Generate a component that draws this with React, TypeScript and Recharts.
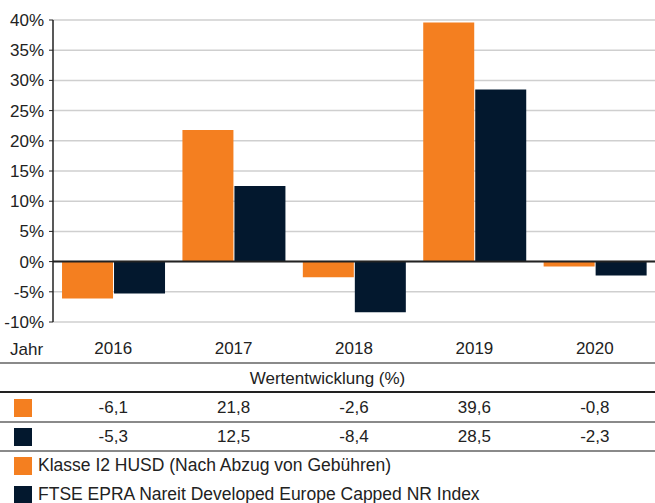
import React from "react";
import {
  BarChart,
  Bar,
  XAxis,
  YAxis,
  CartesianGrid,
  ReferenceLine,
} from "recharts";

const years = ["2016", "2017", "2018", "2019", "2020"];
const fundValues = [-6.1, 21.8, -2.6, 39.6, -0.8];
const indexValues = [-5.3, 12.5, -8.4, 28.5, -2.3];
const yTicks = [-10, -5, 0, 5, 10, 15, 20, 25, 30, 35, 40];
const fundName = "Klasse I2 HUSD (Nach Abzug von Gebühren)";
const indexName = "FTSE EPRA Nareit Developed Europe Capped NR Index";
const tableTitle = "Wertentwicklung (%)";

const ORANGE = "#F47F20";
const NAVY = "#03182E";
const TEXT = "#222";
const FONT = '"Liberation Sans", Arial, Helvetica, sans-serif';

const W = 655;
const H = 503;
const CHART_H = 363;
const AXIS_W = 53;

const data = years.map((y, i) => ({
  year: y,
  fund: fundValues[i],
  index: indexValues[i],
}));

const colW = (W - AXIS_W) / years.length;
const fmt = (v: number) => v.toFixed(1).replace(".", ",");

function Row({ top, color, values }: { top: number; color: string; values: number[] }) {
  return (
    <>
      <div style={{ position: "absolute", left: 14, top: top - 9, width: 18, height: 18, background: color }} />
      {values.map((v, i) => (
        <div
          key={i}
          style={{
            position: "absolute",
            left: AXIS_W + colW * i,
            width: colW,
            top: top - 10,
            textAlign: "center",
            lineHeight: "20px",
          }}
        >
          {fmt(v)}
        </div>
      ))}
    </>
  );
}

function HLine({ top, color }: { top: number; color: string }) {
  return <div style={{ position: "absolute", left: 0, top, width: W, height: 1.5, background: color }} />;
}

export default function App() {
  return (
    <div
      style={{
        position: "absolute",
        left: 0,
        top: 0,
        width: W,
        height: H,
        overflow: "hidden",
        background: "#fff",
        fontFamily: FONT,
        fontSize: 17,
        color: TEXT,
      }}
    >
      <BarChart
        width={W}
        height={CHART_H}
        data={data}
        margin={{ top: 20, right: 0, left: 0, bottom: 0 }}
        barCategoryGap="7.5%"
        barGap={1}
      >
        <CartesianGrid vertical={false} stroke="#cfcfcf" strokeWidth={1.5} />
        <XAxis
          dataKey="year"
          height={41}
          axisLine={false}
          tickLine={false}
          tickMargin={14}
          tick={{ fontSize: 17, fill: TEXT, fontFamily: FONT }}
        />
        <YAxis
          width={AXIS_W}
          domain={[-10, 40]}
          ticks={yTicks}
          interval={0}
          tickFormatter={(v) => `${v}%`}
          axisLine={{ stroke: TEXT, strokeWidth: 1.5 }}
          tickLine={{ stroke: TEXT }}
          tickSize={4}
          tickMargin={5}
          tick={{ fontSize: 17, fill: TEXT, fontFamily: FONT }}
        />
        <Bar dataKey="fund" fill={ORANGE} isAnimationActive={false} />
        <Bar dataKey="index" fill={NAVY} isAnimationActive={false} />
        <ReferenceLine y={0} stroke={TEXT} strokeWidth={2} />
      </BarChart>

      <div style={{ position: "absolute", left: 10, top: 340, lineHeight: "20px" }}>Jahr</div>

      <HLine top={362} color="#8a8a8a" />
      <div style={{ position: "absolute", left: 0, width: W, top: 369, textAlign: "center", lineHeight: "20px" }}>
        {tableTitle}
      </div>
      <HLine top={391} color="#222" />
      <Row top={408} color={ORANGE} values={fundValues} />
      <HLine top={421} color="#8a8a8a" />
      <Row top={437} color={NAVY} values={indexValues} />
      <HLine top={450} color="#8a8a8a" />

      <div style={{ position: "absolute", left: 14, top: 457, width: 18, height: 18, background: ORANGE }} />
      <div style={{ position: "absolute", left: 38, top: 455, lineHeight: "20px", fontSize: 17.5 }}>{fundName}</div>
      <div style={{ position: "absolute", left: 14, top: 486, width: 18, height: 18, background: NAVY }} />
      <div style={{ position: "absolute", left: 38, top: 484, lineHeight: "20px", fontSize: 17.5 }}>{indexName}</div>
    </div>
  );
}
